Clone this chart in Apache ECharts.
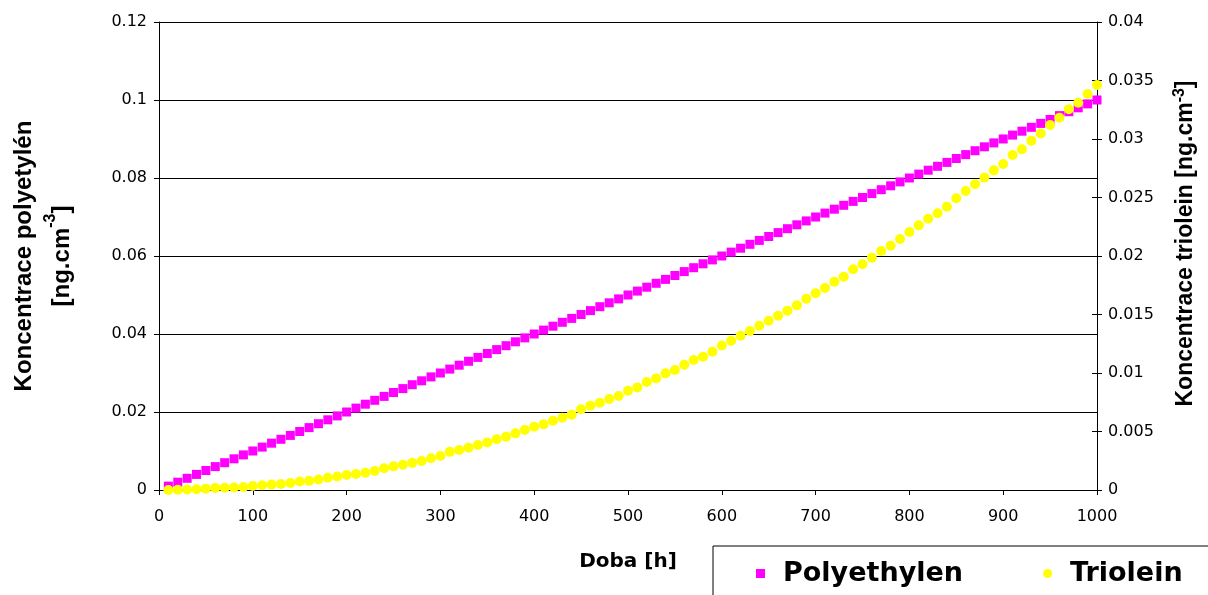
<!DOCTYPE html>
<html>
<head>
<meta charset="utf-8">
<script src="https://cdn.jsdelivr.net/npm/echarts@6/dist/echarts.min.js"></script>
<style>
  html, body { margin: 0; padding: 0; background: #ffffff; }
  #chart { width: 1208px; height: 595px; }
</style>
</head>
<body>
<div id="chart"></div>
<script>
// Time [h]
const hours = [10,20,30,40,50,60,70,80,90,100,
  110,120,130,140,150,160,170,180,190,200,
  210,220,230,240,250,260,270,280,290,300,
  310,320,330,340,350,360,370,380,390,400,
  410,420,430,440,450,460,470,480,490,500,
  510,520,530,540,550,560,570,580,590,600,
  610,620,630,640,650,660,670,680,690,700,
  710,720,730,740,750,760,770,780,790,800,
  810,820,830,840,850,860,870,880,890,900,
  910,920,930,940,950,960,970,980,990,1000];

// Koncentrace polyetylén [ng.cm-3] (left axis)
const polyethylen = [0.001,0.002,0.003,0.004,0.005,0.006,0.007,0.008,0.009,0.010,
  0.011,0.012,0.013,0.014,0.015,0.016,0.017,0.018,0.019,0.020,
  0.021,0.022,0.023,0.024,0.025,0.026,0.027,0.028,0.029,0.030,
  0.031,0.032,0.033,0.034,0.035,0.036,0.037,0.038,0.039,0.040,
  0.041,0.042,0.043,0.044,0.045,0.046,0.047,0.048,0.049,0.050,
  0.051,0.052,0.053,0.054,0.055,0.056,0.057,0.058,0.059,0.060,
  0.061,0.062,0.063,0.064,0.065,0.066,0.067,0.068,0.069,0.070,
  0.071,0.072,0.073,0.074,0.075,0.076,0.077,0.078,0.079,0.080,
  0.081,0.082,0.083,0.084,0.085,0.086,0.087,0.088,0.089,0.090,
  0.091,0.092,0.093,0.094,0.095,0.096,0.097,0.098,0.099,0.100];

// Koncentrace triolein [ng.cm-3] (right axis)
const triolein = [0.00000,0.00002,0.00004,0.00006,0.00010,0.00018,0.00020,0.00022,0.00026,0.00034,
  0.00040,0.00046,0.00052,0.00060,0.00072,0.00078,0.00090,0.00104,0.00116,0.00128,
  0.00136,0.00148,0.00162,0.00186,0.00202,0.00216,0.00232,0.00248,0.00272,0.00290,
  0.00326,0.00342,0.00362,0.00385,0.00407,0.00433,0.00456,0.00484,0.00513,0.00541,
  0.00561,0.00592,0.00618,0.00644,0.00690,0.00720,0.00746,0.00778,0.00803,0.00849,
  0.00877,0.00923,0.00954,0.00997,0.01026,0.01071,0.01111,0.01139,0.01182,0.01235,
  0.01275,0.01319,0.01359,0.01404,0.01447,0.01490,0.01533,0.01578,0.01635,0.01681,
  0.01726,0.01780,0.01823,0.01886,0.01929,0.01986,0.02043,0.02088,0.02145,0.02205,
  0.02262,0.02319,0.02365,0.02421,0.02493,0.02556,0.02614,0.02670,0.02732,0.02786,
  0.02863,0.02912,0.02986,0.03048,0.03120,0.03182,0.03254,0.03310,0.03385,0.03462];

const seriesNames = ['Polyethylen', 'Triolein'];
const xTitle = 'Doba [h]';
const leftTitle = 'Koncentrace polyetylén\n[ng.cm{sup|-3}]';
const rightTitle = 'Koncentrace triolein [ng.cm{sup|-3}]';

const plainNumber = v => String(v);
const tickFont = { fontFamily: 'DejaVu Sans', fontSize: 16, color: '#000' };
const supStyle = { fontFamily: 'Liberation Sans', fontWeight: 'bold', fontSize: 16, color: '#000', verticalAlign: 'top', lineHeight: 18 };

const chart = echarts.init(document.getElementById('chart'), null, { renderer: 'canvas' });
chart.setOption({
  backgroundColor: '#ffffff',
  animation: false,
  grid: { left: 159, right: 111, top: 22, bottom: 105, containLabel: false, outerBoundsMode: 'none' },
  legend: {
    left: 713, top: 546, width: 700,
    orient: 'horizontal',
    selectedMode: false,
    itemWidth: 9, itemHeight: 9,
    itemGap: 80,
    padding: [14, 60, 40, 43],
    borderColor: '#000', borderWidth: 1,
    backgroundColor: '#fff',
    data: [ { name: seriesNames[0], icon: 'rect' }, { name: seriesNames[1], icon: 'circle' } ],
    textStyle: { fontFamily: 'DejaVu Sans', fontWeight: 'bold', fontSize: 27, color: '#000', padding: [0, 0, 0, 13] }
  },
  xAxis: {
    type: 'value', min: 0, max: 1000, interval: 100,
    name: xTitle, nameLocation: 'middle', nameGap: 62,
    nameTextStyle: { fontFamily: 'DejaVu Sans', fontWeight: 'bold', fontSize: 20, color: '#000' },
    axisLine: { show: true, lineStyle: { color: '#000', width: 1 } },
    axisTick: { show: true, inside: false, length: 5, lineStyle: { color: '#000' } },
    axisLabel: Object.assign({ margin: 19, formatter: plainNumber }, tickFont),
    splitLine: { show: false }
  },
  yAxis: [
    {
      type: 'value', position: 'left', min: 0, max: 0.12, interval: 0.02,
      name: leftTitle, nameLocation: 'middle', nameRotate: 90, nameGap: 78,
      nameTextStyle: { fontFamily: 'Liberation Sans', fontWeight: 'bold', fontSize: 24, color: '#000', lineHeight: 38, align: 'center', rich: { sup: supStyle } },
      axisLine: { show: true, lineStyle: { color: '#000', width: 1 } },
      axisTick: { show: true, inside: false, length: 5, lineStyle: { color: '#000' } },
      axisLabel: Object.assign({ margin: 12 }, tickFont),
      splitLine: { show: true, lineStyle: { color: '#000', width: 1 } }
    },
    {
      type: 'value', position: 'right', min: 0, max: 0.04, interval: 0.005,
      name: rightTitle, nameLocation: 'middle', nameRotate: 90, nameGap: 75,
      nameTextStyle: { fontFamily: 'Liberation Sans', fontWeight: 'bold', fontSize: 23, color: '#000', lineHeight: 28, padding: [0, 0, 0, 25], rich: { sup: supStyle } },
      axisLine: { show: true, lineStyle: { color: '#000', width: 1 } },
      axisTick: { show: true, inside: false, length: 5, lineStyle: { color: '#000' } },
      axisLabel: Object.assign({ margin: 11 }, tickFont),
      splitLine: { show: false }
    },
    {
      type: 'value', position: 'right', min: 0, max: 0.04, interval: 0.005,
      axisLine: { show: false },
      axisTick: { show: true, inside: true, length: 5, lineStyle: { color: '#000' } },
      axisLabel: { show: false },
      splitLine: { show: false }
    }
  ],
  series: [
    {
      name: seriesNames[0], type: 'scatter', yAxisIndex: 0, clip: false,
      symbol: 'rect', symbolSize: 9,
      itemStyle: { color: '#FF00FF', opacity: 1 },
      data: hours.map((h, i) => [h, polyethylen[i]])
    },
    {
      name: seriesNames[1], type: 'scatter', yAxisIndex: 1, clip: false,
      symbol: 'circle', symbolSize: 10,
      itemStyle: { color: '#FFFF00', opacity: 1 },
      data: hours.map((h, i) => [h, triolein[i]])
    }
  ]
});
</script>
</body>
</html>
